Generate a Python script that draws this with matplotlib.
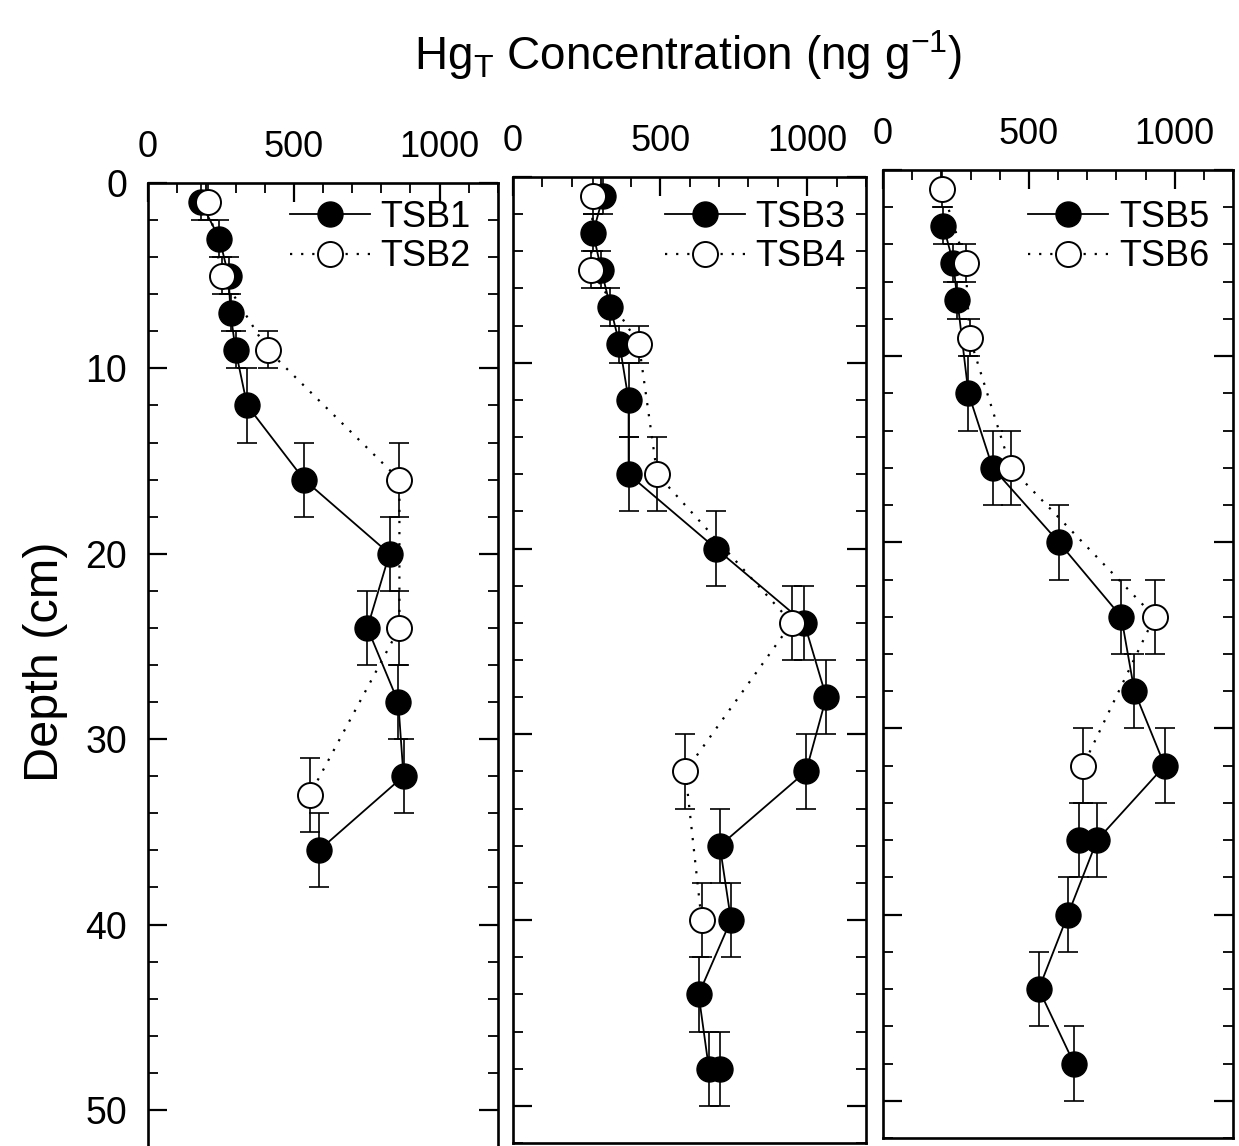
import numpy as np
import matplotlib
matplotlib.use('Agg')
from matplotlib import pyplot as plt
from matplotlib.ticker import MultipleLocator

plt.rcParams['font.family'] = ['Liberation Sans', 'DejaVu Sans']
plt.rcParams['mathtext.fontset'] = 'custom'
plt.rcParams['mathtext.rm'] = 'Liberation Sans'
plt.rcParams['mathtext.it'] = 'Liberation Sans:italic'

# Core TSB1 / TSB2
tsb1_depth = [1, 3, 5, 7, 9, 12, 16, 20, 24, 28, 32, 36]
tsb1_hg = [180, 245, 276, 283, 300, 340, 535, 828, 752, 858, 876, 586]
tsb1_err = [1, 1, 1, 1, 1, 2, 2, 2, 2, 2, 2, 2]
tsb2_depth = [1, 5, 9, 16, 24, 33]
tsb2_hg = [207, 252, 410, 862, 862, 555]
tsb2_err = [1, 1, 1, 2, 2, 2]

# Core TSB3 / TSB4
tsb3_depth = [1, 3, 5, 7, 9, 12, 16, 20, 24, 28, 32, 36, 40, 44, 48]
tsb3_hg = [307, 272, 300, 331, 362, 393, 393, 690, 990, 1065, 996, 703, 741, 631, 666]
tsb3_err = [1, 1, 1, 1, 1, 2, 2, 2, 2, 2, 2, 2, 2, 2, 2]
tsb3_extra_depth = [48]
tsb3_extra_hg = [703]
tsb3_extra_err = [2]
tsb4_depth = [1, 5, 9, 16, 24, 32, 40]
tsb4_hg = [272, 265, 428, 490, 948, 586, 641]
tsb4_err = [1, 1, 1, 2, 2, 2, 2]

# Core TSB5 / TSB6
tsb5_depth = [3, 5, 7, 12, 16, 20, 24, 28, 32, 36, 40, 44, 48]
tsb5_hg = [207, 241, 255, 293, 376, 603, 817, 862, 966, 734, 634, 534, 655]
tsb5_err = [1, 1, 1, 2, 2, 2, 2, 2, 2, 2, 2, 2, 2]
tsb5_extra_depth = [36]
tsb5_extra_hg = [672]
tsb5_extra_err = [2]
tsb6_depth = [1, 5, 9, 16, 24, 32]
tsb6_hg = [203, 283, 297, 438, 931, 686]
tsb6_err = [1, 1, 1, 2, 2, 2]

W, H = 1239, 1146
fig = plt.figure(figsize=(W / 100, H / 100), dpi=100)


def px_axes(left, right, top, bottom):
    return fig.add_axes([left / W, 1 - bottom / H, (right - left) / W, (bottom - top) / H])


def draw_series(ax, hg, depth, err, filled, z, label=None):
    ax.errorbar(hg, depth, yerr=err, fmt='none', ecolor='black', elinewidth=1.2,
                capsize=7, capthick=1.2, zorder=z)
    if filled:
        line, = ax.plot(hg, depth, color='black', lw=1.3, marker='o', ms=18,
                        mfc='black', mec='black', zorder=z + 0.5, label=label)
    else:
        line, = ax.plot(hg, depth, color='black', lw=1.6, ls=(0, (1, 4)), marker='o', ms=18,
                        mfc='white', mec='black', mew=1.4, zorder=z + 0.5, label=label)
    return line


def style_axes(ax, show_ylabels):
    ax.set_xlim(0, 1200)
    ax.set_ylim(52, 0)
    ax.xaxis.set_major_locator(MultipleLocator(500))
    ax.xaxis.set_minor_locator(MultipleLocator(100))
    ax.yaxis.set_major_locator(MultipleLocator(10))
    ax.yaxis.set_minor_locator(MultipleLocator(2))
    ax.tick_params(which='both', direction='in', top=True, bottom=False, left=True, right=True,
                   labeltop=True, labelbottom=False, labelleft=show_ylabels, labelright=False)
    ax.tick_params(which='major', length=14, width=1.6, labelsize=26)
    ax.tick_params(axis='x', which='major', pad=13)
    ax.tick_params(axis='y', which='major', pad=15, labelsize=27)
    ax.tick_params(which='minor', length=7, width=1.3)
    for s in ax.spines.values():
        s.set_linewidth(1.9)


panels = [
    (148, 498, 183, 1147),
    (513, 866, 177, 1143),
    (883, 1233, 170, 1138),
]
legend_right = [471, 846, 1209]
legend_top = 200

ax1 = px_axes(*panels[0])
h1 = draw_series(ax1, tsb1_hg, tsb1_depth, tsb1_err, True, 2, 'TSB1')
h2 = draw_series(ax1, tsb2_hg, tsb2_depth, tsb2_err, False, 4, 'TSB2')
style_axes(ax1, True)

ax2 = px_axes(*panels[1])
h3 = draw_series(ax2, tsb3_hg, tsb3_depth, tsb3_err, True, 2, 'TSB3')
draw_series(ax2, tsb3_extra_hg, tsb3_extra_depth, tsb3_extra_err, True, 2)
h4 = draw_series(ax2, tsb4_hg, tsb4_depth, tsb4_err, False, 4, 'TSB4')
style_axes(ax2, False)

ax3 = px_axes(*panels[2])
h5 = draw_series(ax3, tsb5_hg, tsb5_depth, tsb5_err, True, 2, 'TSB5')
draw_series(ax3, tsb5_extra_hg, tsb5_extra_depth, tsb5_extra_err, True, 2)
h6 = draw_series(ax3, tsb6_hg, tsb6_depth, tsb6_err, False, 4, 'TSB6')
style_axes(ax3, False)

for ax, hs, xr in [(ax1, [h1, h2], legend_right[0]), (ax2, [h3, h4], legend_right[1]),
                   (ax3, [h5, h6], legend_right[2])]:
    ax.legend(handles=hs, loc='upper right', bbox_to_anchor=(xr / W, 1 - legend_top / H),
              bbox_transform=fig.transFigure, frameon=False,
              fontsize=26, handlelength=2.2, handletextpad=0.3, labelspacing=0.12,
              borderpad=0, borderaxespad=0, numpoints=1)

fig.text(688 / W, 1 - 55 / H, r'Hg$_\mathrm{T}$ Concentration (ng g$^{\mathrm{-1}}$)',
         ha='center', va='center', fontsize=33)
fig.text(45 / W, 1 - 662 / H, 'Depth (cm)', rotation=90, ha='center', va='center', fontsize=35)

fig.savefig('out.png', dpi=100)
